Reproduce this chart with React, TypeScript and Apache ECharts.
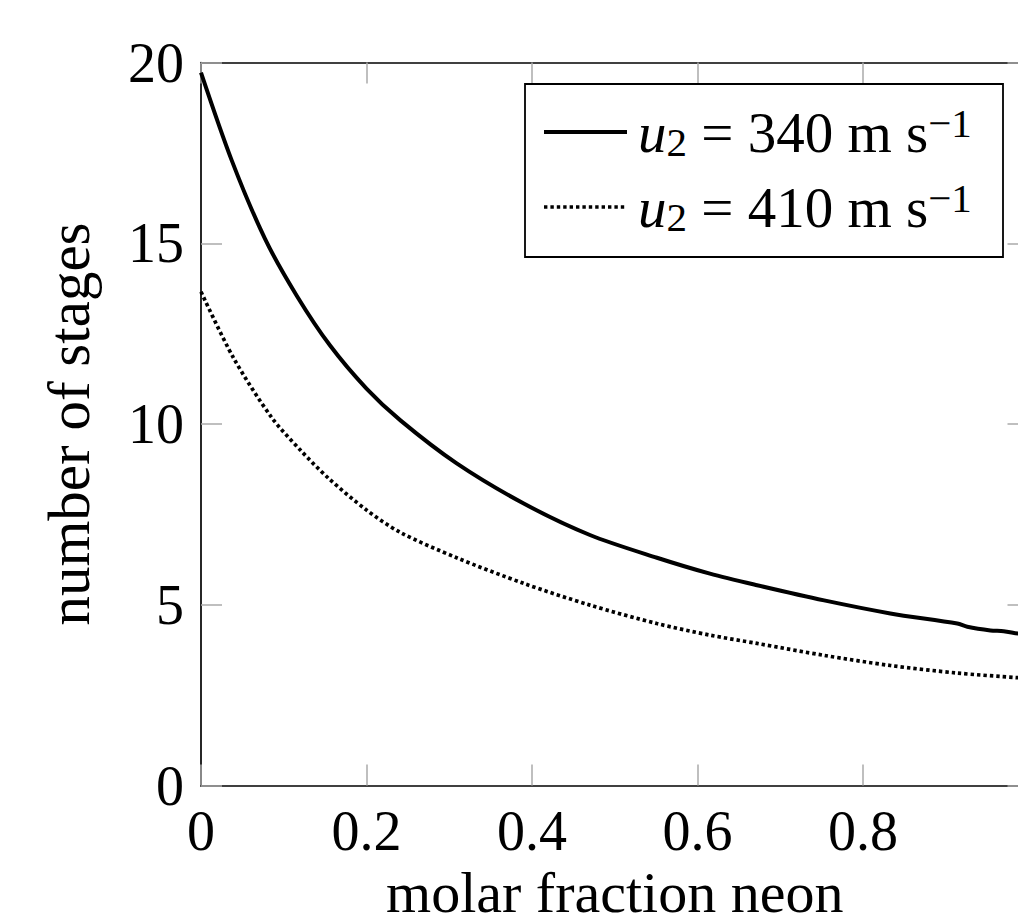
import React, { useEffect, useRef } from "react";
import * as echarts from "echarts";

// x ticks / y ticks
const xTickValues = [0, 0.2, 0.4, 0.6, 0.8, 1];
const yTickValues = [0, 5, 10, 15, 20];

// u2 = 340 m/s (solid)
const xSolid = [0, 0.037, 0.0774, 0.1157, 0.156, 0.2, 0.241, 0.309, 0.39, 0.47, 0.551, 0.615, 0.672, 0.753, 0.833, 0.914, 0.926, 0.954, 0.97, 0.988, 1.0];
const ySolid = [19.72, 17.3, 15.12, 13.55, 12.17, 10.98, 10.1, 8.91, 7.8, 6.93, 6.3, 5.86, 5.54, 5.12, 4.76, 4.48, 4.39, 4.29, 4.27, 4.2, 4.18];

// u2 = 410 m/s (dotted)
const xDotted = [0, 0.039, 0.0854, 0.12, 0.154, 0.2, 0.241, 0.309, 0.39, 0.47, 0.551, 0.615, 0.672, 0.753, 0.833, 0.914, 0.988, 1.0];
const yDotted = [13.66, 11.84, 10.18, 9.28, 8.5, 7.62, 7.0, 6.3, 5.59, 4.99, 4.48, 4.16, 3.93, 3.6, 3.32, 3.11, 2.98, 2.96];

const speeds = ["340", "410"];
const seriesNames = speeds.map((s) => `u₂ = ${s} m s⁻¹`);

const xName = "molar fraction neon";
const yName = "number of stages";

const FONT = "'Liberation Serif', 'DejaVu Serif', serif";

const zip = (xs: number[], ys: number[]) => xs.map((x, i) => [x, ys[i]]);

export default function App() {
  const ref = useRef<HTMLDivElement>(null);
  useEffect(() => {
    const chart = echarts.init(ref.current!, null, { renderer: "svg" });
    const frame = { show: true, onZero: false, lineStyle: { color: "#000", width: 1.7 } };
    const tick = { show: true, inside: true, length: 21, lineStyle: { color: "#aaaaaa", width: 1.5 } };
    chart.setOption({
      animation: false,
      backgroundColor: "#fff",
      grid: {
        left: 201,
        top: 62.5,
        right: -10.5,
        bottom: 138.5,
        containLabel: false,
        outerBoundsMode: "none",
      },
      xAxis: [
        {
          type: "value",
          position: "bottom",
          min: 0,
          max: 1,
          interval: 0.2,
          axisLine: frame,
          axisTick: tick,
          splitLine: { show: false },
          axisLabel: {
            show: true,
            margin: 17,
            fontFamily: FONT,
            fontSize: 56,
            color: "#000",
            showMinLabel: true,
            showMaxLabel: false,
            formatter: (v: number) => {
              const t = xTickValues.find((k) => Math.abs(k - v) < 1e-9);
              return t === undefined ? "" : String(t);
            },
          },
          name: xName,
          nameLocation: "middle",
          nameGap: 73,
          nameTextStyle: { fontFamily: FONT, fontSize: 58, color: "#000" },
        },
        {
          type: "value",
          position: "top",
          min: 0,
          max: 1,
          interval: 0.2,
          axisLine: frame,
          axisTick: tick,
          splitLine: { show: false },
          axisLabel: { show: false },
        },
      ],
      yAxis: [
        {
          type: "value",
          position: "left",
          min: 0,
          max: 20,
          interval: 5,
          axisLine: frame,
          axisTick: tick,
          splitLine: { show: false },
          axisLabel: {
            show: true,
            margin: 17,
            fontFamily: FONT,
            fontSize: 56,
            color: "#000",
            showMinLabel: true,
            showMaxLabel: true,
            formatter: (v: number) => {
              const t = yTickValues.find((k) => Math.abs(k - v) < 1e-9);
              return t === undefined ? "" : String(t);
            },
          },
          name: yName,
          nameLocation: "middle",
          nameGap: 103,
          nameTextStyle: { fontFamily: FONT, fontSize: 59, color: "#000" },
        },
        {
          type: "value",
          position: "right",
          min: 0,
          max: 20,
          interval: 5,
          axisLine: frame,
          axisTick: tick,
          splitLine: { show: false },
          axisLabel: { show: false },
        },
      ],
      graphic: [
        {
          type: "rect",
          z: 3,
          shape: { x: 525, y: 84, width: 478, height: 173 },
          style: { fill: "#fff", stroke: "#000", lineWidth: 1.8 },
          silent: true,
        },
      ],
      legend: {
        show: true,
        z: 5,
        orient: "vertical",
        left: 542,
        top: 102,
        padding: 0,
        itemWidth: 83,
        itemHeight: 60,
        itemGap: 15,
        selectedMode: false,
        itemStyle: { opacity: 0 },
        lineStyle: { width: "inherit" },
        data: seriesNames,
        formatter: (name: string) => {
          const s = speeds[seriesNames.indexOf(name)];
          return `{i|u}{sub|2}{t| = ${s} m s}{sup|−1}`;
        },
        textStyle: {
          fontFamily: FONT,
          color: "#000",
          rich: {
            i: { fontFamily: FONT, fontStyle: "italic", fontSize: 57, lineHeight: 60, padding: [0, 0, 0, 6], color: "#000" },
            sub: { fontFamily: FONT, fontSize: 41, lineHeight: 37, verticalAlign: "bottom", color: "#000" },
            t: { fontFamily: FONT, fontSize: 57, lineHeight: 60, color: "#000" },
            sup: { fontFamily: FONT, fontSize: 41, lineHeight: 26, verticalAlign: "top", color: "#000" },
          },
        },
      },
      series: [
        {
          name: seriesNames[0],
          type: "line",
          data: zip(xSolid, ySolid),
          symbol: "none",
          showSymbol: false,
          smooth: 0.3,
          lineStyle: { color: "#000", width: 4, type: "solid" },
          itemStyle: { color: "#000" },
          emphasis: { disabled: true },
        },
        {
          name: seriesNames[1],
          type: "line",
          data: zip(xDotted, yDotted),
          symbol: "none",
          showSymbol: false,
          smooth: 0.3,
          lineStyle: { color: "#000", width: 3.7, type: [3.4, 3], cap: "butt" },
          itemStyle: { color: "#000" },
          emphasis: { disabled: true },
        },
      ],
    });
    return () => chart.dispose();
  }, []);
  return (
    <div
      ref={ref}
      style={{ position: "absolute", left: 0, top: 0, width: 1018, height: 924, background: "#fff" }}
    />
  );
}
